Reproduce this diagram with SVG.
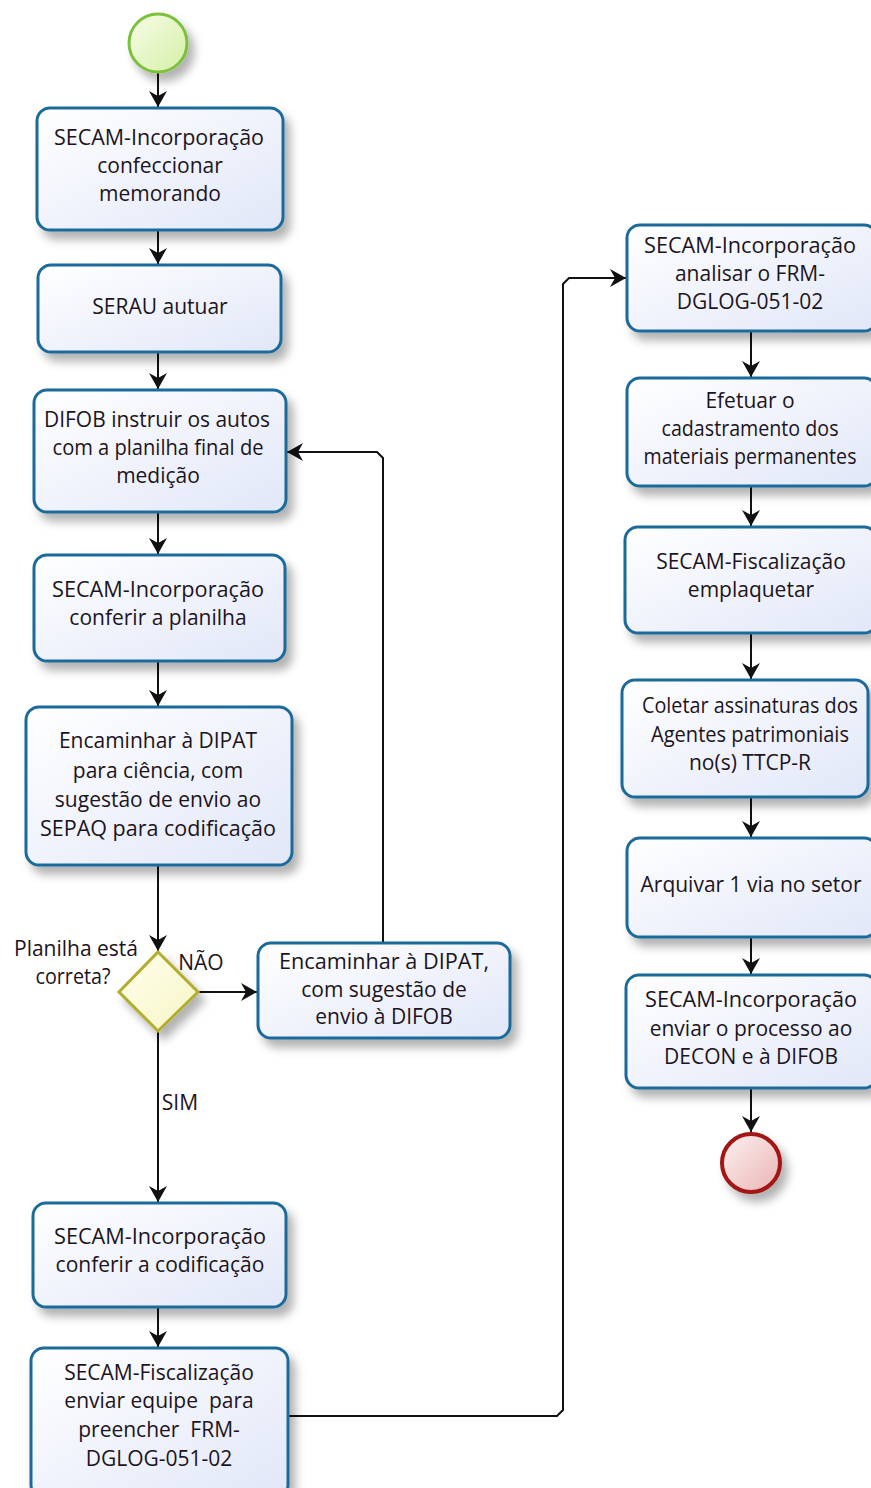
<svg xmlns="http://www.w3.org/2000/svg" width="871" height="1488" viewBox="0 0 871 1488">
<style>
.box{fill:url(#gBox);stroke:#1b6a9a;stroke-width:3;filter:url(#sh)}
.t{font-family:"Open Sans","Liberation Sans",sans-serif;font-size:21px;fill:#1c1420;text-anchor:middle}
.c{fill:none;stroke:#111;stroke-width:2;marker-end:url(#ah)}
</style>
<defs>
<linearGradient id="gBox" x1="0" y1="0" x2="1" y2="1"><stop offset="0" stop-color="#ffffff"/><stop offset="1" stop-color="#e1e7f8"/></linearGradient>
<linearGradient id="gStart" x1="0" y1="0" x2="1" y2="1"><stop offset="0" stop-color="#f8fde8"/><stop offset="1" stop-color="#d4efa6"/></linearGradient>
<linearGradient id="gEnd" x1="0" y1="0" x2="1" y2="1"><stop offset="0" stop-color="#fdf2f2"/><stop offset="1" stop-color="#eab3b3"/></linearGradient>
<linearGradient id="gDia" x1="0" y1="0" x2="1" y2="1"><stop offset="0" stop-color="#ffffee"/><stop offset="1" stop-color="#f6f5c4"/></linearGradient>
<filter id="sh" x="-20%" y="-20%" width="150%" height="160%"><feDropShadow dx="6" dy="8" stdDeviation="5" flood-color="#000" flood-opacity="0.3"/></filter>
<marker id="ah" viewBox="-17 -10 18 20" refX="0" refY="0" markerWidth="18" markerHeight="20" markerUnits="userSpaceOnUse" orient="auto"><path d="M0,0 L-16,-9 L-11,0 L-16,9 Z" fill="#111"/></marker>
</defs>
<g id="connectors">
<path class="c" d="M158,73 V107"/>
<path class="c" d="M158,231 V264"/>
<path class="c" d="M158,353 V389"/>
<path class="c" d="M158,513 V554"/>
<path class="c" d="M158,662 V706"/>
<path class="c" d="M158,866 V951"/>
<path class="c" d="M199,992 H257"/>
<path class="c" d="M383,943 V458 L377,452 H287"/>
<path class="c" d="M158,1032 V1202"/>
<path class="c" d="M158,1308 V1347"/>
<path class="c" d="M289,1416 H557 L563,1410 V284 L569,278 H626"/>
<path class="c" d="M751,332 V377"/>
<path class="c" d="M751,487 V526"/>
<path class="c" d="M751,634 V679"/>
<path class="c" d="M751,798 V837"/>
<path class="c" d="M751,938 V974"/>
<path class="c" d="M751,1089 V1132"/>
</g>
<g id="start"><circle cx="158" cy="43" r="29" fill="url(#gStart)" stroke="#7cc13e" stroke-width="3" filter="url(#sh)"/></g>
<g id="n1"><rect class="box" x="37" y="108" width="246" height="122" rx="13"/>
<text class="t" x="159" y="145" textLength="210" lengthAdjust="spacingAndGlyphs">SECAM-Incorporação</text><text class="t" x="160" y="173">confeccionar</text><text class="t" x="160" y="201">memorando</text></g>
<g id="n2"><rect class="box" x="38" y="265" width="243" height="87" rx="13"/>
<text class="t" x="160" y="314">SERAU autuar</text></g>
<g id="n3"><rect class="box" x="34" y="390" width="252" height="122" rx="13"/>
<text class="t" x="157" y="427" textLength="226" lengthAdjust="spacingAndGlyphs">DIFOB instruir os autos</text><text class="t" x="158" y="455" textLength="211" lengthAdjust="spacingAndGlyphs">com a planilha final de</text><text class="t" x="158" y="483">medição</text></g>
<g id="n4"><rect class="box" x="34" y="555" width="251" height="106" rx="13"/>
<text class="t" x="158" y="597" textLength="212" lengthAdjust="spacingAndGlyphs">SECAM-Incorporação</text><text class="t" x="158" y="625">conferir a planilha</text></g>
<g id="n5"><rect class="box" x="26" y="707" width="266" height="158" rx="13"/>
<text class="t" x="158" y="748">Encaminhar à DIPAT</text><text class="t" x="158" y="778">para ciência, com</text><text class="t" x="158" y="807">sugestão de envio ao</text><text class="t" x="158" y="836" textLength="236" lengthAdjust="spacingAndGlyphs">SEPAQ para codificação</text></g>
<g id="gw"><path d="M158,952 L198,992 L158,1031 L119,992 Z" fill="url(#gDia)" stroke="#b3ad2e" stroke-width="3" filter="url(#sh)"/>
<text class="t" x="76" y="956" textLength="124" lengthAdjust="spacingAndGlyphs">Planilha está</text><text class="t" x="73" y="984" textLength="75" lengthAdjust="spacingAndGlyphs">correta?</text>
<text class="t" x="201" y="970">NÃO</text><text class="t" x="180" y="1110">SIM</text></g>
<g id="n6"><rect class="box" x="258" y="943" width="252" height="95" rx="13"/>
<text class="t" x="384" y="969" textLength="210" lengthAdjust="spacingAndGlyphs">Encaminhar à DIPAT,</text><text class="t" x="384" y="997">com sugestão de</text><text class="t" x="384" y="1024">envio à DIFOB</text></g>
<g id="n7"><rect class="box" x="33" y="1203" width="253" height="104" rx="13"/>
<text class="t" x="160" y="1244" textLength="212" lengthAdjust="spacingAndGlyphs">SECAM-Incorporação</text><text class="t" x="160" y="1272">conferir a codificação</text></g>
<g id="n8"><rect class="box" x="31" y="1348" width="257" height="150" rx="13"/>
<text class="t" x="159" y="1380">SECAM-Fiscalização</text><text class="t" x="159" y="1408" xml:space="preserve">enviar equipe  para</text><text class="t" x="159" y="1437" xml:space="preserve">preencher  FRM-</text><text class="t" x="159" y="1466">DGLOG-051-02</text></g>
<g id="r1"><rect class="box" x="627" y="225" width="250" height="106" rx="13"/>
<text class="t" x="750" y="253" textLength="212" lengthAdjust="spacingAndGlyphs">SECAM-Incorporação</text><text class="t" x="750" y="281">analisar o FRM-</text><text class="t" x="750" y="309">DGLOG-051-02</text></g>
<g id="r2"><rect class="box" x="627" y="378" width="250" height="108" rx="13"/>
<text class="t" x="750" y="408">Efetuar o</text><text class="t" x="750" y="436" textLength="177" lengthAdjust="spacingAndGlyphs">cadastramento dos</text><text class="t" x="750" y="464" textLength="213" lengthAdjust="spacingAndGlyphs">materiais permanentes</text></g>
<g id="r3"><rect class="box" x="625" y="527" width="252" height="106" rx="13"/>
<text class="t" x="751" y="569">SECAM-Fiscalização</text><text class="t" x="751" y="597">emplaquetar</text></g>
<g id="r4"><rect class="box" x="622" y="680" width="246" height="117" rx="13"/>
<text class="t" x="750" y="713" textLength="216" lengthAdjust="spacingAndGlyphs">Coletar assinaturas dos</text><text class="t" x="750" y="742" textLength="198" lengthAdjust="spacingAndGlyphs">Agentes patrimoniais</text><text class="t" x="750" y="770">no(s) TTCP-R</text></g>
<g id="r5"><rect class="box" x="627" y="838" width="250" height="99" rx="13"/>
<text class="t" x="751" y="892">Arquivar 1 via no setor</text></g>
<g id="r6"><rect class="box" x="626" y="975" width="251" height="113" rx="13"/>
<text class="t" x="751" y="1007" textLength="212" lengthAdjust="spacingAndGlyphs">SECAM-Incorporação</text><text class="t" x="751" y="1036">enviar o processo ao</text><text class="t" x="751" y="1064">DECON e à DIFOB</text></g>
<g id="end"><circle cx="751" cy="1163" r="29" fill="url(#gEnd)" stroke="#a31414" stroke-width="4" filter="url(#sh)"/></g>
</svg>
